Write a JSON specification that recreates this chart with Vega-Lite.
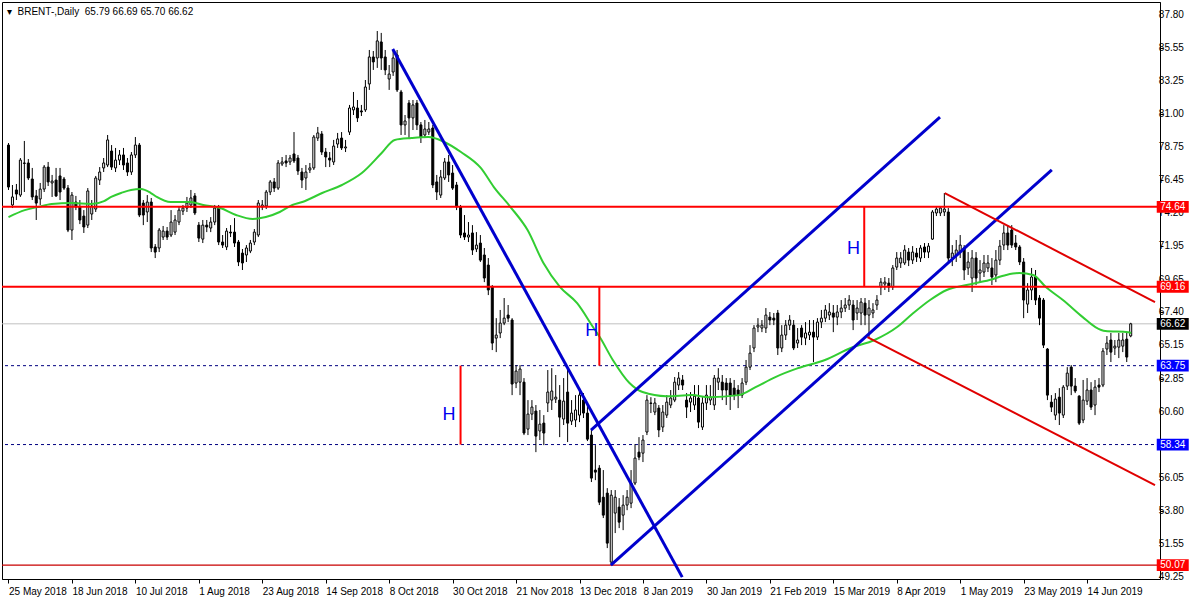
{
"$schema":"https://vega.github.io/schema/vega-lite/v6.json",
"width":1158,"height":577,
"autosize":{"type":"none"},
"padding":{"left":2,"top":2,"right":40,"bottom":21},
"background":"white",
"title":{"text":"▾\u00a0\u00a0BRENT-,Daily\u00a0\u00a065.79 66.69 65.70 66.62","anchor":"start","frame":"group","orient":"top","offset":0,"dx":5,"dy":23,"baseline":"alphabetic","fontSize":10,"fontWeight":"normal","font":"Liberation Sans","color":"black"},
"config":{"view":{"stroke":"black","strokeWidth":1},"font":"Liberation Sans","axis":{"labelOverlap":false,"labelSeparation":0,"grid":false}},
"datasets":{
"candles":[
{"i":0,"o":78.88,"h":79.02,"l":75.80,"c":76.00},{"i":1,"o":74.77,"h":76.14,"l":74.56,"c":75.32},{"i":2,"o":75.80,"h":76.21,"l":75.11,"c":75.52},{"i":3,"o":75.45,"h":77.99,"l":75.32,"c":77.85},{"i":4,"o":77.65,"h":79.16,"l":75.66,"c":77.62},{"i":5,"o":77.65,"h":77.92,"l":76.48,"c":76.62},{"i":6,"o":76.55,"h":77.31,"l":75.11,"c":75.32},{"i":7,"o":75.39,"h":75.80,"l":73.74,"c":74.90},{"i":8,"o":75.18,"h":76.28,"l":74.77,"c":75.86},{"i":9,"o":75.86,"h":77.51,"l":75.66,"c":77.37},
{"i":10,"o":77.37,"h":77.72,"l":76.07,"c":76.35},{"i":11,"o":76.28,"h":76.83,"l":75.32,"c":76.41},{"i":12,"o":76.48,"h":77.31,"l":75.32,"c":75.39},{"i":13,"o":76.76,"h":77.31,"l":75.11,"c":75.66},{"i":14,"o":76.55,"h":76.69,"l":75.80,"c":75.93},{"i":15,"o":75.93,"h":76.14,"l":72.91,"c":73.05},{"i":16,"o":73.05,"h":75.66,"l":72.37,"c":75.45},{"i":17,"o":74.97,"h":75.39,"l":74.42,"c":74.63},{"i":18,"o":74.63,"h":75.11,"l":73.46,"c":73.74},{"i":19,"o":74.01,"h":74.42,"l":72.85,"c":73.26},
{"i":20,"o":73.39,"h":75.93,"l":73.19,"c":75.73},{"i":21,"o":74.15,"h":75.11,"l":73.74,"c":74.70},{"i":22,"o":74.49,"h":76.76,"l":74.29,"c":76.62},{"i":23,"o":76.48,"h":77.37,"l":76.14,"c":77.03},{"i":24,"o":77.31,"h":77.99,"l":77.03,"c":77.65},{"i":25,"o":77.51,"h":79.57,"l":77.37,"c":79.23},{"i":26,"o":78.47,"h":78.88,"l":77.17,"c":77.37},{"i":27,"o":77.31,"h":78.68,"l":77.03,"c":77.85},{"i":28,"o":77.85,"h":78.54,"l":77.51,"c":78.20},{"i":29,"o":78.20,"h":78.68,"l":77.17,"c":77.51},
{"i":30,"o":77.65,"h":77.99,"l":76.76,"c":77.03},{"i":31,"o":77.03,"h":78.40,"l":76.83,"c":78.20},{"i":32,"o":78.20,"h":79.43,"l":77.99,"c":78.88},{"i":33,"o":78.88,"h":79.02,"l":73.94,"c":74.08},{"i":34,"o":74.90,"h":75.11,"l":73.39,"c":74.08},{"i":35,"o":74.29,"h":75.45,"l":73.60,"c":74.97},{"i":36,"o":74.97,"h":75.25,"l":71.54,"c":71.82},{"i":37,"o":71.89,"h":72.09,"l":71.13,"c":71.54},{"i":38,"o":71.82,"h":73.19,"l":71.54,"c":73.05},{"i":39,"o":72.57,"h":73.33,"l":72.37,"c":72.98},
{"i":40,"o":72.98,"h":73.26,"l":72.37,"c":72.57},{"i":41,"o":72.71,"h":74.42,"l":72.57,"c":73.60},{"i":42,"o":72.91,"h":74.08,"l":72.71,"c":73.74},{"i":43,"o":73.60,"h":74.63,"l":73.39,"c":74.42},{"i":44,"o":74.35,"h":74.77,"l":74.08,"c":74.56},{"i":45,"o":74.56,"h":75.32,"l":74.29,"c":74.90},{"i":46,"o":74.77,"h":75.80,"l":74.56,"c":75.25},{"i":47,"o":75.39,"h":75.59,"l":74.08,"c":74.22},{"i":48,"o":73.39,"h":73.60,"l":72.23,"c":72.50},{"i":49,"o":72.43,"h":73.74,"l":72.16,"c":73.39},
{"i":50,"o":73.39,"h":73.74,"l":72.91,"c":73.26},{"i":51,"o":73.19,"h":73.94,"l":72.91,"c":73.60},{"i":52,"o":73.60,"h":74.77,"l":73.39,"c":74.56},{"i":53,"o":74.56,"h":74.77,"l":72.02,"c":72.23},{"i":54,"o":72.23,"h":72.71,"l":71.82,"c":72.02},{"i":55,"o":71.89,"h":73.19,"l":71.68,"c":72.98},{"i":56,"o":72.91,"h":73.39,"l":72.57,"c":72.85},{"i":57,"o":72.91,"h":73.87,"l":71.89,"c":72.16},{"i":58,"o":72.23,"h":72.37,"l":70.58,"c":70.86},{"i":59,"o":71.47,"h":71.75,"l":70.31,"c":70.79},
{"i":60,"o":71.34,"h":72.02,"l":70.86,"c":71.82},{"i":61,"o":71.61,"h":72.37,"l":71.47,"c":72.16},{"i":62,"o":72.23,"h":73.12,"l":72.02,"c":72.91},{"i":63,"o":72.71,"h":75.11,"l":72.57,"c":74.90},{"i":64,"o":74.63,"h":75.11,"l":74.42,"c":74.77},{"i":65,"o":74.70,"h":75.80,"l":74.49,"c":75.66},{"i":66,"o":75.66,"h":76.48,"l":75.45,"c":76.35},{"i":67,"o":76.35,"h":76.62,"l":75.66,"c":75.93},{"i":68,"o":75.93,"h":77.85,"l":75.80,"c":77.65},{"i":69,"o":77.58,"h":78.06,"l":77.44,"c":77.72},
{"i":70,"o":77.79,"h":78.20,"l":77.37,"c":77.65},{"i":71,"o":77.72,"h":78.20,"l":77.51,"c":77.99},{"i":72,"o":78.27,"h":79.77,"l":77.65,"c":77.79},{"i":73,"o":77.99,"h":78.20,"l":76.83,"c":77.10},{"i":74,"o":77.03,"h":77.31,"l":75.93,"c":76.48},{"i":75,"o":76.62,"h":77.51,"l":75.80,"c":77.03},{"i":76,"o":77.17,"h":77.65,"l":76.96,"c":77.31},{"i":77,"o":77.31,"h":79.57,"l":77.17,"c":79.43},{"i":78,"o":79.36,"h":80.12,"l":79.16,"c":79.71},{"i":79,"o":79.64,"h":79.84,"l":78.20,"c":78.40},
{"i":80,"o":78.40,"h":78.68,"l":77.37,"c":78.06},{"i":81,"o":77.99,"h":78.40,"l":77.37,"c":77.85},{"i":82,"o":77.72,"h":79.23,"l":77.51,"c":78.81},{"i":83,"o":78.95,"h":79.71,"l":78.68,"c":79.30},{"i":84,"o":79.36,"h":79.77,"l":78.54,"c":78.68},{"i":85,"o":78.68,"h":79.23,"l":78.40,"c":78.75},{"i":86,"o":79.77,"h":81.63,"l":79.57,"c":81.42},{"i":87,"o":81.29,"h":82.52,"l":80.94,"c":81.49},{"i":88,"o":81.42,"h":81.97,"l":80.46,"c":80.74},{"i":89,"o":81.22,"h":81.63,"l":80.87,"c":81.15},
{"i":90,"o":81.29,"h":83.34,"l":81.15,"c":82.86},{"i":91,"o":83.07,"h":85.40,"l":82.66,"c":84.92},{"i":92,"o":84.92,"h":85.33,"l":84.03,"c":84.58},{"i":93,"o":84.85,"h":86.70,"l":84.17,"c":86.02},{"i":94,"o":85.95,"h":86.57,"l":84.03,"c":84.85},{"i":95,"o":84.92,"h":85.40,"l":83.68,"c":84.03},{"i":96,"o":83.41,"h":84.37,"l":82.66,"c":83.75},{"i":97,"o":83.89,"h":85.40,"l":83.62,"c":84.85},{"i":98,"o":85.06,"h":85.40,"l":82.52,"c":82.66},{"i":99,"o":82.52,"h":82.66,"l":79.57,"c":80.26},
{"i":100,"o":80.26,"h":80.94,"l":79.57,"c":80.53},{"i":101,"o":81.76,"h":81.97,"l":79.36,"c":80.74},{"i":102,"o":80.74,"h":81.97,"l":79.91,"c":81.63},{"i":103,"o":81.76,"h":81.97,"l":79.91,"c":80.26},{"i":104,"o":80.26,"h":80.46,"l":79.02,"c":79.43},{"i":105,"o":79.57,"h":80.60,"l":79.36,"c":79.98},{"i":106,"o":79.77,"h":80.46,"l":79.57,"c":79.98},{"i":107,"o":80.05,"h":80.26,"l":75.93,"c":76.14},{"i":108,"o":76.35,"h":76.83,"l":75.11,"c":75.66},{"i":109,"o":75.45,"h":77.17,"l":75.25,"c":76.69},
{"i":110,"o":76.62,"h":77.99,"l":76.48,"c":77.72},{"i":111,"o":77.72,"h":78.20,"l":76.35,"c":76.83},{"i":112,"o":76.96,"h":77.51,"l":75.80,"c":75.93},{"i":113,"o":76.14,"h":76.35,"l":74.42,"c":74.63},{"i":114,"o":74.63,"h":74.77,"l":72.50,"c":72.71},{"i":115,"o":72.85,"h":74.08,"l":72.37,"c":72.57},{"i":116,"o":72.57,"h":73.60,"l":72.23,"c":72.71},{"i":117,"o":72.85,"h":73.39,"l":71.34,"c":71.68},{"i":118,"o":71.75,"h":72.91,"l":71.54,"c":72.02},{"i":119,"o":72.16,"h":72.71,"l":70.86,"c":70.99},
{"i":120,"o":71.34,"h":71.82,"l":69.48,"c":69.76},{"i":121,"o":70.65,"h":71.13,"l":68.59,"c":68.94},{"i":122,"o":69.14,"h":69.28,"l":64.82,"c":65.30},{"i":123,"o":65.64,"h":67.01,"l":64.68,"c":65.85},{"i":124,"o":65.99,"h":67.57,"l":65.64,"c":66.67},{"i":125,"o":66.67,"h":68.39,"l":66.53,"c":67.01},{"i":126,"o":67.22,"h":67.91,"l":66.74,"c":67.01},{"i":127,"o":66.88,"h":67.01,"l":61.73,"c":62.49},{"i":128,"o":62.56,"h":63.79,"l":62.21,"c":63.38},{"i":129,"o":62.62,"h":63.79,"l":61.73,"c":63.52},
{"i":130,"o":62.62,"h":62.90,"l":58.99,"c":59.13},{"i":131,"o":59.40,"h":61.39,"l":58.99,"c":60.43},{"i":132,"o":60.43,"h":61.39,"l":60.02,"c":60.91},{"i":133,"o":60.64,"h":61.05,"l":57.82,"c":58.92},{"i":134,"o":59.27,"h":60.71,"l":58.65,"c":59.74},{"i":135,"o":59.81,"h":60.36,"l":58.30,"c":59.13},{"i":136,"o":61.19,"h":63.45,"l":60.57,"c":61.94},{"i":137,"o":61.39,"h":63.58,"l":60.71,"c":62.01},{"i":138,"o":61.46,"h":63.11,"l":61.19,"c":61.59},{"i":139,"o":61.39,"h":62.42,"l":58.85,"c":60.22},
{"i":140,"o":60.09,"h":62.90,"l":59.68,"c":61.32},{"i":141,"o":61.94,"h":63.58,"l":58.51,"c":59.81},{"i":142,"o":59.95,"h":61.39,"l":59.68,"c":60.50},{"i":143,"o":60.02,"h":61.73,"l":59.54,"c":60.71},{"i":144,"o":60.36,"h":62.08,"l":59.88,"c":61.73},{"i":145,"o":61.39,"h":61.87,"l":60.16,"c":60.50},{"i":146,"o":60.50,"h":61.05,"l":58.58,"c":58.71},{"i":147,"o":58.99,"h":59.34,"l":55.77,"c":56.04},{"i":148,"o":56.59,"h":58.30,"l":55.90,"c":56.45},{"i":149,"o":56.72,"h":56.93,"l":54.19,"c":54.39},
{"i":150,"o":54.73,"h":56.59,"l":53.30,"c":53.50},{"i":151,"o":55.01,"h":55.35,"l":51.24,"c":51.58},{"i":152,"o":50.28,"h":55.22,"l":50.07,"c":54.87},{"i":153,"o":53.64,"h":55.22,"l":52.27,"c":54.73},{"i":154,"o":54.05,"h":54.67,"l":52.61,"c":53.02},{"i":155,"o":53.50,"h":54.87,"l":52.47,"c":54.19},{"i":156,"o":54.19,"h":55.22,"l":53.84,"c":54.73},{"i":157,"o":54.32,"h":56.59,"l":53.98,"c":55.70},{"i":158,"o":55.70,"h":58.37,"l":55.56,"c":57.41},{"i":159,"o":57.82,"h":58.85,"l":57.27,"c":57.48},
{"i":160,"o":57.75,"h":58.99,"l":57.14,"c":58.65},{"i":161,"o":59.20,"h":61.73,"l":58.99,"c":61.39},{"i":162,"o":61.19,"h":61.59,"l":60.50,"c":61.16},{"i":163,"o":60.57,"h":61.53,"l":60.36,"c":61.19},{"i":164,"o":60.84,"h":61.05,"l":58.85,"c":59.34},{"i":165,"o":59.54,"h":61.05,"l":59.20,"c":60.57},{"i":166,"o":60.36,"h":61.73,"l":60.16,"c":61.25},{"i":167,"o":61.05,"h":62.08,"l":60.84,"c":61.53},{"i":168,"o":61.39,"h":62.97,"l":61.25,"c":62.62},{"i":169,"o":62.42,"h":63.31,"l":62.08,"c":62.90},
{"i":170,"o":62.77,"h":63.11,"l":62.08,"c":62.42},{"i":171,"o":61.39,"h":61.87,"l":60.16,"c":60.91},{"i":172,"o":61.25,"h":61.94,"l":60.57,"c":61.53},{"i":173,"o":61.05,"h":62.42,"l":60.71,"c":61.66},{"i":174,"o":61.53,"h":62.42,"l":59.47,"c":59.88},{"i":175,"o":59.54,"h":61.59,"l":59.34,"c":61.19},{"i":176,"o":61.19,"h":62.42,"l":60.71,"c":61.73},{"i":177,"o":61.39,"h":62.42,"l":61.05,"c":61.59},{"i":178,"o":61.05,"h":63.11,"l":60.71,"c":62.90},{"i":179,"o":62.62,"h":63.58,"l":62.08,"c":62.90},
{"i":180,"o":62.62,"h":63.11,"l":61.39,"c":62.08},{"i":181,"o":62.56,"h":62.90,"l":61.05,"c":62.08},{"i":182,"o":62.56,"h":62.90,"l":60.71,"c":61.73},{"i":183,"o":62.21,"h":62.77,"l":61.39,"c":61.73},{"i":184,"o":62.08,"h":62.42,"l":60.84,"c":61.73},{"i":185,"o":61.73,"h":62.90,"l":61.53,"c":62.56},{"i":186,"o":62.62,"h":64.14,"l":62.42,"c":63.65},{"i":187,"o":63.65,"h":65.16,"l":63.45,"c":64.61},{"i":188,"o":64.96,"h":66.53,"l":64.68,"c":66.33},{"i":189,"o":66.40,"h":67.01,"l":66.05,"c":66.53},
{"i":190,"o":66.33,"h":66.88,"l":66.05,"c":66.53},{"i":191,"o":66.33,"h":67.70,"l":65.99,"c":67.22},{"i":192,"o":67.08,"h":67.43,"l":66.53,"c":66.88},{"i":193,"o":67.01,"h":67.36,"l":66.53,"c":66.88},{"i":194,"o":67.36,"h":67.57,"l":64.48,"c":64.96},{"i":195,"o":64.96,"h":66.53,"l":64.68,"c":65.85},{"i":196,"o":65.85,"h":66.88,"l":65.51,"c":66.53},{"i":197,"o":66.53,"h":67.22,"l":66.19,"c":66.88},{"i":198,"o":66.53,"h":66.88,"l":64.82,"c":64.96},{"i":199,"o":65.30,"h":66.33,"l":64.96,"c":65.51},
{"i":200,"o":66.33,"h":66.53,"l":65.16,"c":65.71},{"i":201,"o":65.64,"h":66.74,"l":65.16,"c":65.99},{"i":202,"o":65.85,"h":66.88,"l":65.51,"c":66.05},{"i":203,"o":66.05,"h":66.88,"l":64.00,"c":65.71},{"i":204,"o":65.71,"h":67.01,"l":65.51,"c":66.74},{"i":205,"o":66.74,"h":67.57,"l":66.33,"c":67.01},{"i":206,"o":67.01,"h":67.91,"l":66.74,"c":67.57},{"i":207,"o":67.22,"h":68.04,"l":66.88,"c":67.43},{"i":208,"o":67.36,"h":67.91,"l":66.05,"c":67.08},{"i":209,"o":67.08,"h":67.91,"l":66.53,"c":67.43},
{"i":210,"o":67.43,"h":68.25,"l":67.01,"c":67.70},{"i":211,"o":67.70,"h":68.39,"l":67.43,"c":67.91},{"i":212,"o":67.91,"h":68.59,"l":67.57,"c":68.25},{"i":213,"o":67.91,"h":68.25,"l":66.19,"c":66.88},{"i":214,"o":67.36,"h":68.25,"l":66.88,"c":67.70},{"i":215,"o":67.36,"h":68.39,"l":66.53,"c":68.11},{"i":216,"o":68.04,"h":68.39,"l":66.53,"c":67.22},{"i":217,"o":67.22,"h":68.25,"l":65.64,"c":67.70},{"i":218,"o":67.36,"h":68.04,"l":67.01,"c":67.57},{"i":219,"o":67.91,"h":68.59,"l":67.57,"c":68.25},
{"i":220,"o":69.14,"h":69.76,"l":68.59,"c":69.48},{"i":221,"o":69.35,"h":69.83,"l":68.94,"c":69.48},{"i":222,"o":69.41,"h":69.76,"l":68.80,"c":69.14},{"i":223,"o":69.14,"h":70.65,"l":68.94,"c":70.45},{"i":224,"o":70.51,"h":71.54,"l":70.31,"c":71.13},{"i":225,"o":70.79,"h":71.54,"l":70.45,"c":71.13},{"i":226,"o":70.79,"h":72.02,"l":70.65,"c":71.68},{"i":227,"o":71.54,"h":71.82,"l":70.58,"c":70.99},{"i":228,"o":70.99,"h":71.95,"l":70.72,"c":71.54},{"i":229,"o":71.47,"h":71.82,"l":70.86,"c":71.20},
{"i":230,"o":71.13,"h":72.02,"l":70.86,"c":71.82},{"i":231,"o":71.89,"h":72.16,"l":71.13,"c":71.54},{"i":232,"o":71.54,"h":72.16,"l":71.13,"c":71.95},{"i":233,"o":72.43,"h":74.42,"l":72.37,"c":74.29},{"i":234,"o":74.22,"h":74.63,"l":74.01,"c":74.49},{"i":235,"o":74.22,"h":74.63,"l":74.01,"c":74.56},{"i":236,"o":74.29,"h":75.59,"l":74.01,"c":74.49},{"i":237,"o":74.29,"h":74.56,"l":70.86,"c":71.13},{"i":238,"o":71.13,"h":72.02,"l":70.58,"c":71.47},{"i":239,"o":71.34,"h":72.37,"l":70.86,"c":71.68},
{"i":240,"o":71.54,"h":72.71,"l":71.13,"c":72.02},{"i":241,"o":71.82,"h":72.02,"l":69.62,"c":70.31},{"i":242,"o":70.45,"h":71.54,"l":69.97,"c":70.86},{"i":243,"o":69.76,"h":71.68,"l":68.80,"c":71.13},{"i":244,"o":71.13,"h":71.54,"l":69.28,"c":69.76},{"i":245,"o":70.10,"h":70.99,"l":69.48,"c":70.31},{"i":246,"o":70.17,"h":71.34,"l":69.83,"c":70.79},{"i":247,"o":70.45,"h":71.34,"l":70.17,"c":70.79},{"i":248,"o":70.45,"h":71.13,"l":69.28,"c":69.83},{"i":249,"o":69.97,"h":71.68,"l":69.48,"c":70.99},
{"i":250,"o":70.99,"h":72.37,"l":70.65,"c":71.95},{"i":251,"o":72.02,"h":73.39,"l":71.68,"c":72.85},{"i":252,"o":72.85,"h":73.39,"l":71.68,"c":72.02},{"i":253,"o":73.05,"h":73.39,"l":71.82,"c":72.02},{"i":254,"o":72.16,"h":72.71,"l":71.68,"c":71.89},{"i":255,"o":71.89,"h":72.02,"l":70.65,"c":70.86},{"i":256,"o":70.86,"h":71.13,"l":67.01,"c":68.25},{"i":257,"o":67.97,"h":69.41,"l":67.36,"c":68.94},{"i":258,"o":68.94,"h":70.45,"l":68.25,"c":69.83},{"i":259,"o":69.83,"h":70.31,"l":67.91,"c":68.25},
{"i":260,"o":68.39,"h":68.59,"l":66.53,"c":67.01},{"i":261,"o":68.25,"h":68.39,"l":64.96,"c":65.16},{"i":262,"o":64.89,"h":64.96,"l":61.39,"c":61.73},{"i":263,"o":61.25,"h":61.73,"l":60.57,"c":60.91},{"i":264,"o":60.36,"h":61.87,"l":60.02,"c":61.46},{"i":265,"o":61.59,"h":62.21,"l":59.68,"c":60.50},{"i":266,"o":60.36,"h":62.42,"l":60.16,"c":62.28},{"i":267,"o":62.35,"h":63.65,"l":62.08,"c":63.24},{"i":268,"o":63.65,"h":63.79,"l":61.73,"c":62.35},{"i":269,"o":62.35,"h":62.90,"l":61.87,"c":62.01},
{"i":270,"o":61.66,"h":61.73,"l":59.68,"c":59.81},{"i":271,"o":60.02,"h":62.77,"l":59.81,"c":61.39},{"i":272,"o":61.32,"h":62.90,"l":61.05,"c":62.08},{"i":273,"o":62.08,"h":62.62,"l":60.71,"c":60.91},{"i":274,"o":61.05,"h":62.77,"l":60.36,"c":62.28},{"i":275,"o":62.42,"h":62.90,"l":61.94,"c":62.28},{"i":276,"o":62.42,"h":64.96,"l":62.28,"c":64.75},{"i":277,"o":64.89,"h":65.78,"l":64.48,"c":65.30},{"i":278,"o":65.51,"h":65.99,"l":64.00,"c":64.68},{"i":279,"o":64.96,"h":65.51,"l":64.48,"c":65.09},
{"i":280,"o":65.02,"h":65.99,"l":64.27,"c":65.51},{"i":281,"o":65.09,"h":65.99,"l":64.68,"c":65.51},{"i":282,"o":65.57,"h":65.99,"l":64.00,"c":64.34},{"i":283,"o":65.79,"h":66.69,"l":65.70,"c":66.62}
],
"ma":[
{"i":0,"ma":73.94},{"i":4.1,"ma":74.42},{"i":7.4,"ma":74.63},{"i":10.9,"ma":74.84},{"i":15.9,"ma":74.90},{"i":20.9,"ma":74.84},{"i":24.1,"ma":75.04},{"i":25.9,"ma":75.32},{"i":28.4,"ma":75.59},{"i":30.9,"ma":75.80},{"i":33.4,"ma":75.86},{"i":35.9,"ma":75.59},{"i":37.4,"ma":75.32},{"i":40.9,"ma":74.97},{"i":45.9,"ma":74.97},{"i":49.1,"ma":74.77},{"i":53.4,"ma":74.56},{"i":57.4,"ma":74.08},{"i":61.6,"ma":73.81},{"i":64.9,"ma":73.94},{"i":68.4,"ma":74.29},{"i":71.6,"ma":74.77},{"i":74.1,"ma":74.97},{"i":79.1,"ma":75.59},{"i":84.1,"ma":76.14},{"i":89.1,"ma":76.96},{"i":94.1,"ma":78.33},{"i":97.4,"ma":79.23},{"i":101.6,"ma":79.36},{"i":105.9,"ma":79.43},{"i":109.9,"ma":79.09},{"i":114.1,"ma":78.40},{"i":119.1,"ma":77.31},{"i":122.4,"ma":76.00},{"i":126.6,"ma":74.63},{"i":130.9,"ma":73.05},{"i":134.9,"ma":70.79},{"i":139.1,"ma":69.14},{"i":143.4,"ma":68.04},{"i":147.4,"ma":66.40},{"i":149.1,"ma":65.71},{"i":152.4,"ma":64.14},{"i":156.6,"ma":62.56},{"i":159.9,"ma":61.94},{"i":165.9,"ma":61.66},{"i":172.4,"ma":61.73},{"i":176.6,"ma":61.59},{"i":184.1,"ma":61.73},{"i":188.4,"ma":62.28},{"i":193.4,"ma":62.97},{"i":199.1,"ma":63.58},{"i":205.9,"ma":64.14},{"i":212.4,"ma":64.96},{"i":218.4,"ma":65.51},{"i":224.1,"ma":66.40},{"i":227.9,"ma":67.29},{"i":232.4,"ma":68.25},{"i":236.6,"ma":68.94},{"i":241.6,"ma":69.28},{"i":247.4,"ma":69.62},{"i":251.6,"ma":69.97},{"i":254.9,"ma":70.10},{"i":258.4,"ma":69.97},{"i":261.6,"ma":69.14},{"i":265.9,"ma":68.25},{"i":270.9,"ma":67.08},{"i":274.1,"ma":66.40},{"i":276.6,"ma":66.12},{"i":282.4,"ma":66.05},{"i":283.1,"ma":65.99}
],
"levels":[
{"p":74.64,"kind":"solid"},{"p":69.16,"kind":"solid"},{"p":66.62,"kind":"last"},{"p":63.75,"kind":"dashed"},{"p":58.34,"kind":"dashed"},{"p":50.07,"kind":"low"}
],
"ticks":[
{"v":87.80},{"v":85.55},{"v":83.25},{"v":81.00},{"v":78.75},{"v":76.45},{"v":74.20},{"v":71.95},{"v":69.65},{"v":67.40},{"v":65.15},{"v":62.85},{"v":60.60},{"v":58.35},{"v":56.05},{"v":53.80},{"v":51.55},{"v":49.25}
],
"trend":[
{"line":"fall","kind":"channel","i":96.9,"p":85.47},{"line":"fall","kind":"channel","i":169.9,"p":49.25},
{"line":"upper","kind":"channel","i":146.9,"p":59.33},{"line":"upper","kind":"channel","i":234.9,"p":80.80},
{"line":"lower","kind":"channel","i":151.9,"p":50.07},{"line":"lower","kind":"channel","i":263.1,"p":77.17},
{"line":"top","kind":"wedge","i":236.1,"p":75.59},{"line":"top","kind":"wedge","i":289.125,"p":68.11},
{"line":"bottom","kind":"wedge","i":216.6,"p":65.71},{"line":"bottom","kind":"wedge","i":289.125,"p":55.56}
],
"heights":[
{"i":114.0,"top":63.75,"bottom":58.34,"hi":111.1,"hp":60.02,"label":"H"},
{"i":149.0,"top":69.16,"bottom":63.75,"hi":147.1,"hp":65.78,"label":"H"},
{"i":215.8,"top":74.64,"bottom":69.16,"hi":213.1,"hp":71.41,"label":"H"}
]
},
"layer":[
{"data":{"name":"levels"},"transform":[{"filter":"datum.kind === 'last'"}],"mark":{"type":"rule","color":"#c0c0c0","strokeWidth":1},"encoding":{"y":{"field":"p","type":"quantitative"}}},
{"data":{"name":"levels"},"transform":[{"filter":"datum.kind === 'dashed'"}],"mark":{"type":"rule","color":"#000080","strokeWidth":1,"strokeDash":[3,3]},"encoding":{"y":{"field":"p","type":"quantitative"}}},
{"data":{"name":"candles"},"mark":{"type":"rule","color":"black","strokeWidth":1},
 "encoding":{
  "x":{"field":"i","type":"quantitative","scale":{"domain":[-0.375,289.125],"nice":false,"zero":false},
   "axis":{"title":null,"grid":false,"values":[0,16,32,48,64,80,96,112,128,144,160,176,192,208,224,240,256,272],
    "labelExpr":"['25 May 2018','18 Jun 2018','10 Jul 2018','1 Aug 2018','23 Aug 2018','14 Sep 2018','8 Oct 2018','30 Oct 2018','21 Nov 2018','13 Dec 2018','8 Jan 2019','30 Jan 2019','21 Feb 2019','15 Mar 2019','8 Apr 2019','1 May 2019','23 May 2019','14 Jun 2019'][round(datum.value/16)]",
    "labelAlign":"left","labelBaseline":"top","labelPadding":3,"labelFlush":false,"labelOverlap":false,"labelFont":"Liberation Sans","labelFontSize":10,"labelColor":"black","tickColor":"black","tickSize":4,"domainColor":"black"}},
  "y":{"field":"l","type":"quantitative","scale":{"domain":[49.12,88.69],"nice":false,"zero":false},
   "axis":{"title":null,"grid":false,"orient":"right","values":[87.80,85.55,83.25,81.00,78.75,76.45,74.20,71.95,69.65,67.40,65.15,62.85,60.60,58.35,56.05,53.80,51.55,49.25],
    "labels":false,"tickColor":"black","tickSize":3,"domainColor":"black"}},
  "y2":{"field":"h"}}},
{"data":{"name":"candles"},"mark":{"type":"bar","size":2,"stroke":"black","strokeWidth":1},
 "encoding":{"x":{"field":"i","type":"quantitative"},"y":{"field":"o","type":"quantitative"},"y2":{"field":"c"},
  "fill":{"condition":{"test":"datum.c < datum.o","value":"#000000"},"value":"#ffffff"}}},
{"data":{"name":"ma"},"mark":{"type":"line","color":"#32cd32","strokeWidth":2,"interpolate":"monotone"},
 "encoding":{"x":{"field":"i","type":"quantitative"},"y":{"field":"ma","type":"quantitative"}}},
{"data":{"name":"levels"},"transform":[{"filter":"datum.kind === 'solid'"}],"mark":{"type":"rule","color":"#ff0000","strokeWidth":2},"encoding":{"y":{"field":"p","type":"quantitative"}}},
{"data":{"name":"levels"},"transform":[{"filter":"datum.kind === 'low'"}],"mark":{"type":"rule","color":"#c80000","strokeWidth":1.2},"encoding":{"y":{"field":"p","type":"quantitative"}}},
{"data":{"name":"trend"},"transform":[{"filter":"datum.kind === 'channel'"}],"mark":{"type":"line","color":"#0000cd","strokeWidth":3,"clip":true},
 "encoding":{"x":{"field":"i","type":"quantitative"},"y":{"field":"p","type":"quantitative"},"detail":{"field":"line"}}},
{"data":{"name":"trend"},"transform":[{"filter":"datum.kind === 'wedge'"}],"mark":{"type":"line","color":"#e00000","strokeWidth":2,"clip":true},
 "encoding":{"x":{"field":"i","type":"quantitative"},"y":{"field":"p","type":"quantitative"},"detail":{"field":"line"}}},
{"data":{"name":"heights"},"mark":{"type":"rule","color":"#ff0000","strokeWidth":2},
 "encoding":{"x":{"field":"i","type":"quantitative"},"y":{"field":"top","type":"quantitative"},"y2":{"field":"bottom"}}},
{"data":{"name":"heights"},"mark":{"type":"text","color":"#0000ee","fontSize":18,"font":"Liberation Sans","align":"center","baseline":"alphabetic"},
 "encoding":{"x":{"field":"hi","type":"quantitative"},"y":{"field":"hp","type":"quantitative"},"text":{"field":"label"}}},
{"data":{"name":"ticks"},"mark":{"type":"text","color":"black","fontSize":10,"font":"Liberation Sans","align":"left","baseline":"middle"},
 "encoding":{"x":{"datum":290.1},"y":{"field":"v","type":"quantitative"},"text":{"field":"v","type":"quantitative","format":".2f"}}},
{"data":{"name":"levels"},"mark":{"type":"point","shape":"M-1,-0.37H1V0.37H-1Z","size":1024,"filled":true,"opacity":1,"strokeWidth":0},
 "encoding":{"x":{"datum":293.6},"y":{"field":"p","type":"quantitative"},
  "color":{"field":"kind","type":"nominal","scale":{"domain":["solid","low","dashed","last"],"range":["#ff0000","#ff0000","#0000ff","#000000"]},"legend":null}}},
{"data":{"name":"levels"},"mark":{"type":"text","color":"white","fontSize":10,"font":"Liberation Sans","align":"center","baseline":"middle"},
 "encoding":{"x":{"datum":293.6},"y":{"field":"p","type":"quantitative"},"text":{"field":"p","type":"quantitative","format":".2f"}}}
]
}
